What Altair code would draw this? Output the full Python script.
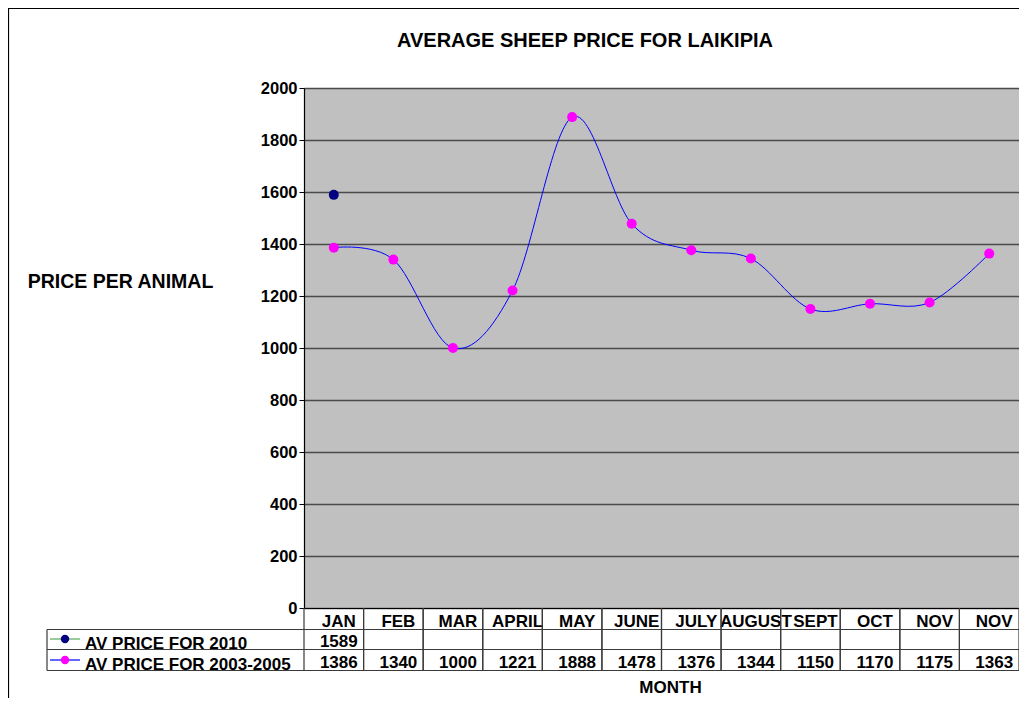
import altair as alt
import pandas as pd

# ---- data ----
months = ["JAN", "FEB", "MAR", "APRIL", "MAY", "JUNE", "JULY", "AUGUST", "SEPT", "OCT", "NOV", "NOV"]
price_0305 = [1386, 1340, 1000, 1221, 1888, 1478, 1376, 1344, 1150, 1170, 1175, 1363]
price_2010 = [1589]
series_names = ["AV PRICE FOR 2010", "AV PRICE FOR 2003-2005"]
chart_title = "AVERAGE SHEEP PRICE FOR LAIKIPIA"
y_ticks = [0, 200, 400, 600, 800, 1000, 1200, 1400, 1600, 1800, 2000]

idx = list(range(len(months)))
df_hist = pd.DataFrame({"i": idx, "price": price_0305})
df_2010 = pd.DataFrame({"i": idx[:len(price_2010)], "price": price_2010})
df_cols = pd.DataFrame({"i": idx})
df_one = pd.DataFrame({"a": [0]})
label_expr = "[" + ",".join("'" + m + "'" for m in months) + "][datum.value]"

FONT = "Liberation Sans"
W, H = 715, 520
LINE_C = "#3a3a3a"
TS = 17  # table text size

x_axis = alt.Axis(
    labelExpr=label_expr, labelAngle=0, ticks=False, labelPadding=18,
    labelFont=FONT, labelFontWeight="bold", labelFontSize=TS, labelColor="black",
    labelBaseline="alphabetic", labelAlign="center", labelOffset=5,
    domainColor="black", domainWidth=1.2, grid=False,
    title="MONTH", titleFont=FONT, titleFontWeight="bold", titleFontSize=17,
    titleColor="black", titleX=366, titleY=71, titleBaseline="top", titleAlign="center",
)
y_axis = alt.Axis(
    values=y_ticks, format="d", tickSize=5, tickColor="black", domainColor="black", domainWidth=1.2,
    labelFont=FONT, labelFontWeight="bold", labelFontSize=16.5, labelColor="black", labelPadding=2,
    grid=True, gridColor="#4a4a4a", gridWidth=1.4,
    title="PRICE PER ANIMAL", titleFont=FONT, titleFontWeight="bold", titleFontSize=19.5,
    titleColor="black", titleAngle=0, titleX=-184, titleY=193, titleAlign="center",
    titleBaseline="middle",
)
x_scale = alt.Scale(type="band", domain=idx, paddingInner=0, paddingOuter=0)
y_scale = alt.Scale(domain=[0, 2000], nice=False)


def X(bp=0.5):
    return alt.X("i:O", scale=x_scale, axis=x_axis, bandPosition=bp)


def Y():
    return alt.Y("price:Q", scale=y_scale, axis=y_axis)


base_hist = alt.Chart(df_hist)

line = base_hist.mark_line(interpolate="cardinal", color="#0000FF", strokeWidth=1).encode(x=X(), y=Y())
pts = base_hist.mark_circle(size=100, color="#FF00FF", opacity=1).encode(x=X(), y=Y())
pts10 = alt.Chart(df_2010).mark_circle(size=100, color="#000080", opacity=1).encode(x=X(), y=Y())

# table column separators
sep0 = alt.Chart(df_cols).mark_rule(color=LINE_C, strokeWidth=1.2).encode(
    x=X(0), y=alt.value(H), y2=alt.value(H + 63))
sep1 = alt.Chart(df_cols).mark_rule(color=LINE_C, strokeWidth=1.2).encode(
    x=X(1), y=alt.value(H), y2=alt.value(H + 63))


def hline(yv):
    return alt.Chart(df_one).mark_rule(color=LINE_C, strokeWidth=1.2).encode(
        x=alt.value(-257), x2=alt.value(W), y=alt.value(yv))


left_border = alt.Chart(df_one).mark_rule(color=LINE_C, strokeWidth=1.2).encode(
    x=alt.value(-257), y=alt.value(H + 21.5), y2=alt.value(H + 62.5))

txt_kw = dict(font=FONT, fontWeight="bold", fontSize=TS, color="black", align="center",
              baseline="alphabetic", dx=5)
row10 = alt.Chart(df_2010).mark_text(**txt_kw).encode(x=X(), y=alt.value(H + 38.5), text="price:Q")
rowh = alt.Chart(df_hist).mark_text(**txt_kw).encode(x=X(), y=alt.value(H + 60), text="price:Q")

lab_kw = dict(font=FONT, fontWeight="bold", fontSize=17, color="black", align="left", baseline="alphabetic")
lab10 = alt.Chart(pd.DataFrame({"t": [series_names[0]]})).mark_text(**lab_kw).encode(
    x=alt.value(-219), y=alt.value(H + 41), text="t:N")
labh = alt.Chart(pd.DataFrame({"t": [series_names[1]]})).mark_text(**lab_kw).encode(
    x=alt.value(-219), y=alt.value(H + 62), text="t:N")
key10_l = alt.Chart(df_one).mark_rule(color="#55aa55", strokeWidth=1.2).encode(
    x=alt.value(-254), x2=alt.value(-224), y=alt.value(H + 31))
keyh_l = alt.Chart(df_one).mark_rule(color="#0000FF", strokeWidth=1.2).encode(
    x=alt.value(-254), x2=alt.value(-224), y=alt.value(H + 52))
key10_p = alt.Chart(df_one).mark_circle(size=70, color="#000080", opacity=1).encode(
    x=alt.value(-239), y=alt.value(H + 31))
keyh_p = alt.Chart(df_one).mark_circle(size=70, color="#FF00FF", opacity=1).encode(
    x=alt.value(-239), y=alt.value(H + 52))

title_txt = alt.Chart(pd.DataFrame({"t": [chart_title]})).mark_text(
    font=FONT, fontWeight="bold", fontSize=20, color="black", align="center", baseline="alphabetic"
).encode(x=alt.value(281), y=alt.value(-41), text="t:N")

frame = alt.Chart(df_one).mark_rect(fillOpacity=0, stroke="black", strokeWidth=1.2).encode(
    x=alt.value(-295.5), x2=alt.value(W + 40), y=alt.value(-79.5), y2=alt.value(H + 120))

chart = alt.layer(
    frame, line, pts, pts10, rowh, row10, lab10, labh,
    sep0, sep1, alt.layer(hline(H + 21.5), hline(H + 41.5), hline(H + 62.5)), left_border,
    key10_l, keyh_l, key10_p, keyh_p, title_txt,
).properties(
    width=W, height=H,
    autosize=alt.AutoSizeParams(type="none"),
    padding={"left": 296, "top": 80, "right": 0, "bottom": 90},
    background="white",
).configure_view(fill="#C0C0C0", stroke=None)

chart.save("out.html", embed_options={"renderer": "svg", "actions": False})
